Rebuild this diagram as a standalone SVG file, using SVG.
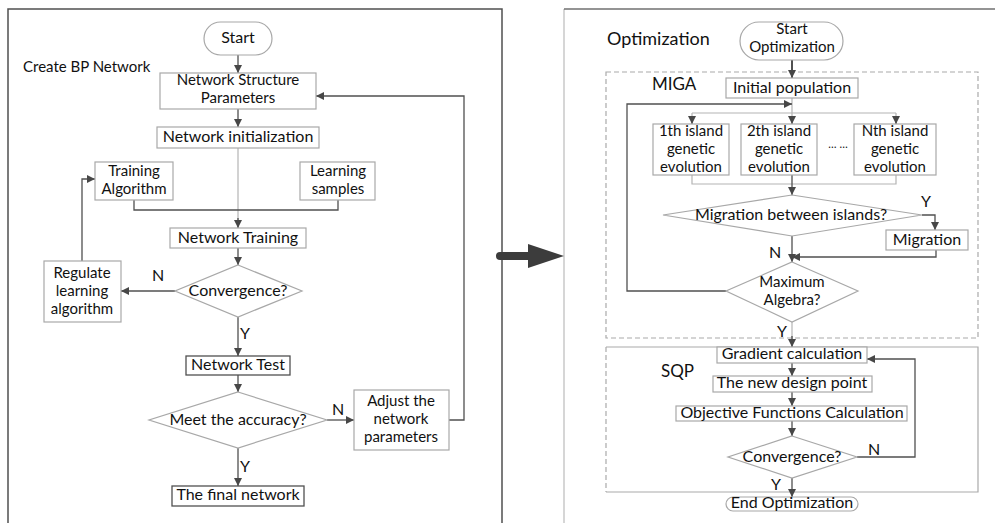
<svg xmlns="http://www.w3.org/2000/svg" width="995" height="523" viewBox="0 0 995 523">
<style>
text{font-family:Lato,"Liberation Sans",sans-serif;fill:#111;font-size:16px;text-anchor:middle}
.m{font-size:15px}
.lbl{text-anchor:start}
.box{fill:#fff;stroke:#a8a8a8;stroke-width:1.2}
.dbox{fill:#fff;stroke:#505050;stroke-width:1.3}
.c{fill:none;stroke:#505050;stroke-width:1.3}
.lc{fill:none;stroke:#b4b4b4;stroke-width:1.2}
.a{marker-end:url(#ah)}
</style>
<defs>
<marker id="ah" viewBox="0 0 10 10" refX="10" refY="5" markerWidth="9" markerHeight="8" markerUnits="userSpaceOnUse" orient="auto">
<path d="M0,0 L10,5 L0,10 z" fill="#474747"/>
</marker>
</defs>
<rect width="995" height="523" fill="#fff"/>
<!-- panels -->
<g id="panels">
<path d="M8,523 V9 H502 V523" fill="none" stroke="#505050" stroke-width="1.5"/>
<path d="M564,523 V9" fill="none" stroke="#bbb" stroke-width="1.2"/>
<path d="M564,9 H995" fill="none" stroke="#707070" stroke-width="1.5"/>
<text class="lbl" x="23" y="72" style="font-size:15px">Create BP Network</text>
<text class="lbl" x="607" y="45" style="font-size:18px">Optimization</text>
<path d="M606,72 H978 V338 H606 Z" fill="none" stroke="#aaa" stroke-width="1.2" stroke-dasharray="5,3"/>
<text class="lbl" x="652" y="90" style="font-size:17px">MIGA</text>
<path d="M606,347 H978 V492 H606" fill="none" stroke="#aaa" stroke-width="1.2"/>
<path d="M606,347 V492" fill="none" stroke="#aaa" stroke-width="1.2" stroke-dasharray="5,3"/>
<text class="lbl" x="661" y="377" style="font-size:17px">SQP</text>
</g>
<!-- big arrow -->
<g id="bigarrow">
<line x1="500" y1="256" x2="531" y2="256" stroke="#3c3c3c" stroke-width="8" stroke-linecap="round"/>
<polygon points="528,244 564,256 528,268" fill="#3c3c3c"/>
</g>
<!-- connectors -->
<g id="connectors">
<path class="c a" d="M238,55 V73"/>
<path class="c a" d="M238,109 V127"/>
<path class="lc" d="M238,148 V222"/>
<path class="c a" d="M238,218 V228"/>
<path class="c" d="M134,200 V210 H338 V200"/>
<path class="c a" d="M238,248 V265"/>
<path class="c a" d="M175,291 H121"/>
<path class="c a" d="M82,261 V179 H95"/>
<path class="c a" d="M238,317 V356"/>
<path class="c a" d="M238,375 V392"/>
<path class="c a" d="M327,420 H354"/>
<path class="c a" d="M449,420 H464 V96 H316"/>
<path class="c a" d="M238,448 V486"/>

<path class="c a" d="M792,60 V78" style="stroke-width:2"/>
<path class="lc" d="M792,98 V113 M692,113 H896"/>
<path class="c a" d="M726,291 H627 V104 H792"/>
<path class="lc" d="M692,113 V120 M792,113 V120 M896,113 V120"/>
<path class="c a" d="M692,116 V124"/>
<path class="c a" d="M792,116 V124"/>
<path class="c a" d="M896,116 V124"/>
<path class="lc" d="M692,175 V184 H896 V175"/>
<path class="c a" d="M792,175 V195"/>
<path class="c a" d="M922,215 H935 V230"/>
<path class="c a" d="M936,250 V257 H792"/>
<path class="c a" d="M792,236 V262"/>
<path class="lc" d="M792,322 V340"/>
<path class="c a" d="M792,336 V347"/>
<path class="c a" d="M792,363 V376"/>
<path class="c a" d="M792,392 V406"/>
<path class="c a" d="M792,421 V436"/>
<path class="c a" d="M857,457 H915 V359 H867"/>
<path class="c a" d="M792,478 V497"/>
</g>
<!-- labels -->
<g id="edge-labels">
<text x="158" y="281">N</text>
<text x="245" y="339">Y</text>
<text x="338" y="415">N</text>
<text x="245" y="472">Y</text>
<text x="926" y="207">Y</text>
<text x="775" y="258">N</text>
<text x="782" y="337">Y</text>
<text x="874" y="455">N</text>
<text x="776" y="490">Y</text>
</g>
<!-- left nodes -->
<g id="start"><rect class="box" x="204" y="22" width="68" height="33" rx="16.5"/><text x="238" y="43">Start</text></g>
<g id="nsp"><rect class="box" x="160" y="73" width="156" height="36"/><text class="m" x="238" y="85">Network Structure<tspan x="238" dy="18">Parameters</tspan></text></g>
<g id="ninit"><rect class="box" x="157" y="127" width="162" height="21"/><text x="238" y="142">Network initialization</text></g>
<g id="talg"><rect class="box" x="95" y="162" width="78" height="38"/><text class="m" x="134" y="176">Training<tspan x="134" dy="18">Algorithm</tspan></text></g>
<g id="lsamp"><rect class="box" x="300" y="162" width="75" height="38"/><text class="m" x="338" y="176">Learning<tspan x="338" dy="18">samples</tspan></text></g>
<g id="ntrain"><rect class="box" x="170" y="228" width="136" height="20"/><text x="238" y="243">Network Training</text></g>
<g id="conv1"><polygon class="box" points="238,265 302,291 238,317 175,291"/><text x="238" y="296">Convergence?</text></g>
<g id="regulate"><rect class="box" x="44" y="261" width="77" height="61"/><text class="m" x="82" y="278">Regulate<tspan x="82" dy="18">learning</tspan><tspan x="82" dy="18">algorithm</tspan></text></g>
<g id="ntest"><rect class="dbox" x="186" y="356" width="104" height="19"/><text x="238" y="370">Network Test</text></g>
<g id="meet"><polygon class="box" points="238,392 327,420 238,448 149,420"/><text x="238" y="425">Meet the accuracy?</text></g>
<g id="adjust"><rect class="box" x="354" y="390" width="95" height="60"/><text class="m" x="401" y="406">Adjust the<tspan x="401" dy="18">network</tspan><tspan x="401" dy="18">parameters</tspan></text></g>
<g id="final"><rect class="dbox" x="172" y="486" width="132" height="20"/><text x="238" y="500">The final network</text></g>
<!-- right nodes -->
<g id="startopt"><rect class="box" x="740" y="22" width="103" height="38" rx="19"/><text class="m" x="792" y="34">Start<tspan x="792" dy="18">Optimization</tspan></text></g>
<g id="initpop"><rect class="box" x="726" y="78" width="132" height="20"/><text x="792" y="93">Initial population</text></g>
<g id="isl1"><rect class="box" x="653" y="124" width="76" height="51"/><text class="m" x="691" y="136">1th island<tspan x="691" dy="18">genetic</tspan><tspan x="691" dy="18">evolution</tspan></text></g>
<g id="isl2"><rect class="box" x="741" y="124" width="76" height="51"/><text class="m" x="779" y="136">2th island<tspan x="779" dy="18">genetic</tspan><tspan x="779" dy="18">evolution</tspan></text></g>
<g id="dots"><text x="838" y="148" style="font-size:11px">… …</text></g>
<g id="isln"><rect class="box" x="854" y="124" width="82" height="51"/><text class="m" x="895" y="136">Nth island<tspan x="895" dy="18">genetic</tspan><tspan x="895" dy="18">evolution</tspan></text></g>
<g id="migq"><polygon class="box" points="792,195 922,215 792,236 663,215"/><text x="791" y="220">Migration between islands?</text></g>
<g id="migration"><rect class="box" x="886" y="230" width="82" height="20"/><text x="927" y="245">Migration</text></g>
<g id="maxalg"><polygon class="box" points="792,262 858,291 792,322 726,291"/><text class="m" x="792" y="287">Maximum<tspan x="792" dy="18">Algebra?</tspan></text></g>
<g id="grad"><rect class="box" x="717" y="347" width="150" height="16"/><text x="792" y="359">Gradient calculation</text></g>
<g id="newpt"><rect class="box" x="713" y="376" width="159" height="16"/><text x="792" y="388">The new design point</text></g>
<g id="objf"><rect class="box" x="676" y="406" width="231" height="15"/><text x="792" y="418">Objective Functions Calculation</text></g>
<g id="conv2"><polygon class="box" points="792,436 857,457 792,478 728,457"/><text x="792" y="462">Convergence?</text></g>
<g id="endopt"><rect class="box" x="726" y="497" width="132" height="14" rx="7"/><text x="792" y="508">End Optimization</text></g>
</svg>
